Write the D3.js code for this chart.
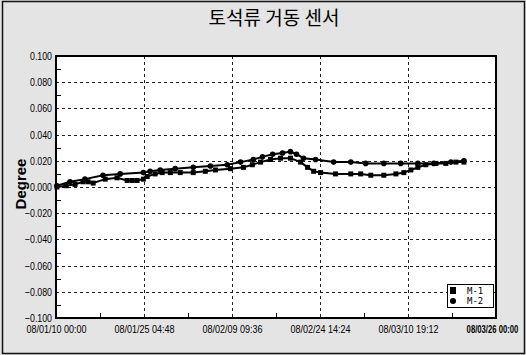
<!DOCTYPE html>
<html>
<head>
<meta charset="utf-8">
<script src="https://cdn.jsdelivr.net/npm/d3@7"></script>
<style>
  html, body { margin: 0; padding: 0; background: #fff; }
  svg { display: block; }
  .narrow { font-family: 'Liberation Sans Narrow', 'Arial Narrow', 'Liberation Sans', sans-serif; }
</style>
</head>
<body>
<svg id="chart" width="526" height="355"></svg>
<script>
// Sensor tilt readings (degree) per station
const m1Dates = [
  "2008-01-10 04:00","2008-01-11 18:00","2008-01-13 07:00","2008-01-14 16:00","2008-01-15 13:00",
  "2008-01-16 10:00","2008-01-18 12:00","2008-01-20 13:00","2008-01-22 07:00","2008-01-23 04:00",
  "2008-01-24 00:00","2008-01-25 02:00","2008-01-25 18:00","2008-01-27 03:00","2008-01-28 08:00",
  "2008-01-29 18:00","2008-01-31 11:00","2008-02-02 17:00","2008-02-04 19:00","2008-02-06 13:00",
  "2008-02-09 03:00","2008-02-11 09:00","2008-02-12 22:00","2008-02-14 08:00","2008-02-16 01:00",
  "2008-02-17 19:00","2008-02-19 12:00","2008-02-21 06:00","2008-02-22 11:00","2008-02-23 12:00",
  "2008-02-24 17:00","2008-02-27 07:00","2008-02-29 22:00","2008-03-02 15:00","2008-03-04 09:00",
  "2008-03-06 15:00","2008-03-08 17:00","2008-03-10 02:00","2008-03-11 07:00","2008-03-12 12:00",
  "2008-03-13 21:00","2008-03-15 15:00","2008-03-17 08:00","2008-03-19 02:00","2008-03-20 11:00"
];
const m1Values = [
  0.000, 0.001, 0.002, 0.004, 0.004,
  0.003, 0.006, 0.007, 0.005, 0.005,
  0.005, 0.006, 0.008, 0.010, 0.011,
  0.011, 0.011, 0.011, 0.012, 0.013,
  0.014, 0.015, 0.017, 0.019, 0.021,
  0.022, 0.022, 0.019, 0.015, 0.012,
  0.011, 0.010, 0.010, 0.010, 0.009,
  0.009, 0.010, 0.011, 0.013, 0.015,
  0.017, 0.018, 0.018, 0.019, 0.019
];
const m2Dates = [
  "2008-01-10 04:00","2008-01-12 10:00","2008-01-15 00:00","2008-01-18 03:00","2008-01-21 02:00",
  "2008-01-25 02:00","2008-01-26 06:00","2008-01-28 00:00","2008-01-30 14:00","2008-02-02 17:00",
  "2008-02-05 16:00","2008-02-08 14:00","2008-02-10 21:00","2008-02-13 02:00","2008-02-14 16:00",
  "2008-02-16 10:00","2008-02-18 03:00","2008-02-19 12:00","2008-02-20 13:00","2008-02-21 18:00",
  "2008-02-23 20:00","2008-02-26 23:00","2008-02-29 22:00","2008-03-03 12:00","2008-03-06 15:00",
  "2008-03-09 13:00","2008-03-12 12:00","2008-03-15 06:00","2008-03-18 05:00","2008-03-20 11:00"
];
const m2Values = [
  0.001, 0.004, 0.006, 0.009, 0.010,
  0.011, 0.012, 0.013, 0.014, 0.015,
  0.016, 0.017, 0.019, 0.021, 0.023,
  0.025, 0.026, 0.027, 0.025, 0.022,
  0.021, 0.019, 0.019, 0.018, 0.018,
  0.018, 0.018, 0.018, 0.019, 0.020
];
const seriesNames = ["M-1", "M-2"];
const xTickLabels = ["08/01/10 00:00","08/01/25 04:48","08/02/09 09:36","08/02/24 14:24","08/03/10 19:12","08/03/26 00:00"];
const yTickValues = [0.100, 0.080, 0.060, 0.040, 0.020, 0.000, -0.020, -0.040, -0.060, -0.080, -0.100];
const titleText = "토석류 거동 센서";
const yTitle = "Degree";

const parseT = d3.timeParse("%Y-%m-%d %H:%M");
const parseTick = d3.timeParse("%y/%m/%d %H:%M");

const svg = d3.select("#chart");
const W = 526, H = 355;
const plot = { left: 56, right: 496, top: 56, bottom: 318 };

// page background with frame
svg.append("rect").attr("x", 0).attr("y", 0).attr("width", W).attr("height", H).attr("fill", "#e4e4e4");
svg.append("rect").attr("x", 2.5).attr("y", 1.5).attr("width", W - 4).attr("height", H - 3)
  .attr("fill", "none").attr("stroke", "#111").attr("stroke-width", 1.5);

const tickDates = xTickLabels.map(parseTick);
const x = d3.scaleTime().domain([tickDates[0], tickDates[tickDates.length - 1]]).range([plot.left, plot.right]);
const y = d3.scaleLinear().domain([-0.1, 0.1]).range([plot.bottom, plot.top]);

// plot area
svg.append("rect").attr("x", plot.left).attr("y", plot.top)
  .attr("width", plot.right - plot.left).attr("height", plot.bottom - plot.top).attr("fill", "#fff");

// dashed grid
const grid = svg.append("g").attr("stroke", "#222").attr("stroke-width", 1).attr("stroke-dasharray", "3,3");
grid.selectAll("line.h").data(yTickValues.filter(v => v > -0.1 && v < 0.1)).join("line")
  .attr("x1", plot.left).attr("x2", plot.right)
  .attr("y1", d => Math.round(y(d)) + 0.5).attr("y2", d => Math.round(y(d)) + 0.5);
grid.selectAll("line.v").data(tickDates.slice(1, -1)).join("line")
  .attr("y1", plot.top).attr("y2", plot.bottom)
  .attr("x1", d => Math.round(x(d)) + 0.5).attr("x2", d => Math.round(x(d)) + 0.5);

// minor ticks, inside the frame
const minorY = d3.range(-0.09, 0.1, 0.02);
svg.append("g").selectAll("line").data(minorY).join("line")
  .attr("x1", plot.left).attr("x2", plot.left + 5)
  .attr("y1", d => Math.round(y(d)) + 0.5).attr("y2", d => Math.round(y(d)) + 0.5)
  .attr("stroke", "#000");
const minorX = d3.pairs(tickDates).map(([a, b]) => new Date((+a + +b) / 2));
svg.append("g").selectAll("line").data(minorX).join("line")
  .attr("y1", plot.bottom).attr("y2", plot.bottom - 5)
  .attr("x1", d => Math.round(x(d)) + 0.5).attr("x2", d => Math.round(x(d)) + 0.5)
  .attr("stroke", "#000");

// axes (horizontally condensed labels)
const fmtY = d3.format(".3f");
const yAxis = d3.axisLeft(y).tickValues(yTickValues).tickFormat(fmtY).tickSize(0).tickPadding(5);
const gy = svg.append("g").attr("transform", `translate(${plot.left},0)`).call(yAxis);
gy.select(".domain").remove();
gy.selectAll("text").attr("class", "narrow").attr("font-size", 11).attr("fill", "#000")
  .attr("transform", "scale(0.8,1)");

const xAxis = d3.axisBottom(x).tickValues(tickDates).tickFormat((d, i) => xTickLabels[i]).tickSize(0).tickPadding(7);
const gx = svg.append("g").attr("transform", `translate(0,${plot.bottom})`).call(xAxis);
gx.select(".domain").remove();
const lastX = tickDates.length - 1;
gx.selectAll("text").attr("class", "narrow").attr("font-size", 11).attr("fill", "#000")
  .attr("font-weight", (d, i) => i === lastX ? "bold" : "normal")
  .attr("transform", (d, i) => i === lastX ? "translate(-4,0) scale(0.7,1)" : "scale(0.82,1)");

// plot frame
svg.append("rect").attr("x", plot.left).attr("y", plot.top)
  .attr("width", plot.right - plot.left).attr("height", plot.bottom - plot.top)
  .attr("fill", "none").attr("stroke", "#000").attr("stroke-width", 2);

// series
const m1 = m1Dates.map((d, i) => ({ t: parseT(d), v: m1Values[i] }));
const m2 = m2Dates.map((d, i) => ({ t: parseT(d), v: m2Values[i] }));
const line = d3.line().x(d => x(d.t)).y(d => y(d.v));

svg.append("path").datum(m2).attr("d", line).attr("fill", "none").attr("stroke", "#000").attr("stroke-width", 2);
svg.append("path").datum(m1).attr("d", line).attr("fill", "none").attr("stroke", "#000").attr("stroke-width", 2);

svg.append("g").selectAll("circle").data(m2).join("circle")
  .attr("cx", d => x(d.t)).attr("cy", d => y(d.v)).attr("r", 2.8).attr("fill", "#000");
svg.append("g").selectAll("rect").data(m1).join("rect")
  .attr("x", d => x(d.t) - 2.5).attr("y", d => y(d.v) - 2.5).attr("width", 5).attr("height", 5).attr("fill", "#000");

// title
svg.append("text").attr("x", 274).attr("y", 25).attr("text-anchor", "middle")
  .attr("font-family", "'Noto Sans CJK KR', sans-serif").attr("font-size", 19).attr("fill", "#000")
  .text(titleText);

// y title
svg.append("text").attr("transform", "translate(26,184) rotate(-90)").attr("text-anchor", "middle")
  .attr("font-family", "'Liberation Sans', Arial, sans-serif").attr("font-weight", "bold")
  .attr("font-size", 15).attr("fill", "#000").text(yTitle);

// legend
const lg = svg.append("g").attr("transform", "translate(447,284)");
lg.append("rect").attr("x", 0.5).attr("y", 0.5).attr("width", 46).attr("height", 23)
  .attr("fill", "#fff").attr("stroke", "#000").attr("stroke-width", 1);
lg.append("rect").attr("x", 3).attr("y", 3).attr("width", 6).attr("height", 7).attr("fill", "#000");
lg.append("circle").attr("cx", 6).attr("cy", 17).attr("r", 3).attr("fill", "#000");
lg.selectAll("text").data(seriesNames).join("text")
  .attr("x", 20).attr("y", (d, i) => 10 + i * 10)
  .attr("font-family", "'DejaVu Sans Mono', monospace").attr("font-size", 9).attr("fill", "#000")
  .text(d => d);
</script>
</body>
</html>
